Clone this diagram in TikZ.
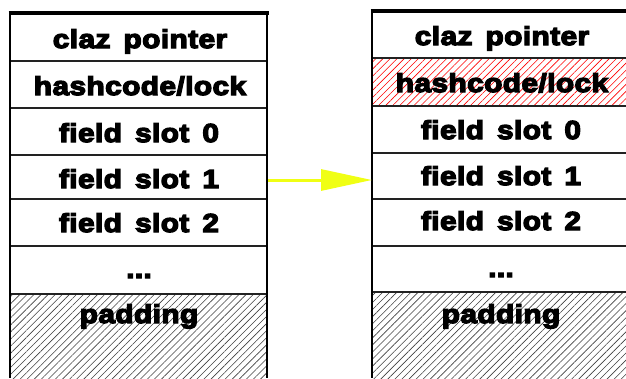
\documentclass[tikz,border=0pt]{standalone}
\usepackage{fontspec}
\newfontfamily\lbl{Liberation Sans}[FakeStretch=1.15,LetterSpace=1.5,WordSpace=1.5,BoldFeatures={FakeBold=5}]
\usetikzlibrary{arrows.meta,patterns.meta}
\definecolor{arrowyellow}{RGB}{240,255,20}
\definecolor{sepgray}{RGB}{34,34,34}
\begin{document}
\begin{tikzpicture}[x=1pt,y=-1pt,
  txt/.style={anchor=base,inner sep=0pt,font=\lbl\bfseries\fontsize{26}{26}\selectfont},
  border/.style={line width=1.8pt,black},
  topbar/.style={line width=4pt,black},
  sep/.style={line width=1.2pt,sepgray},
  hatchblack/.style={pattern={Lines[angle=45,distance=5pt,line width=0.6pt]},pattern color=black!75},
  hatchred/.style={pattern={Lines[angle=45,distance=5pt,line width=0.6pt]},pattern color=red},
  flow/.style={line width=3pt,arrowyellow,-{Triangle[length=51pt,width=21pt]}}]
\useasboundingbox (0,0) rectangle (626,378);
% left box
\fill[hatchblack] (10,294) rectangle (267,378);
\foreach \y in {61,108,155,199,246,294} \draw[sep] (10,\y) -- (267,\y);
\draw[border] (10,12) -- (10,378);
\draw[border] (267,12) -- (267,378);
\draw[topbar] (8.5,12.5) -- (268.5,12.5);
\node[txt] (l1) at (140,48) {claz pointer};
\node[txt] (l2) at (140,95) {hashcode/lock};
\node[txt] (l3) at (139,142) {field slot 0};
\node[txt] (l4) at (139,188) {field slot 1};
\node[txt] (l5) at (139,232) {field slot 2};
\node[txt] (l6) at (139,278) {...};
\node[txt] (l7) at (139,323) {padding};
% right box
\fill[hatchred] (372,58) rectangle (630,106);
\fill[hatchblack] (372,292) rectangle (630,378);
\foreach \y in {58,153,199,246,292} \draw[sep] (372,\y) -- (630,\y);
\draw[line width=2pt,sepgray] (372,106) -- (630,106);
\draw[border] (372,10) -- (372,378);
\draw[topbar] (370.5,11) -- (630,11);
\node[txt] (r1) at (502,45) {claz pointer};
\node[txt] (r2) at (502,92) {hashcode/lock};
\node[txt] (r3) at (501,139) {field slot 0};
\node[txt] (r4) at (501,185) {field slot 1};
\node[txt] (r5) at (501,230) {field slot 2};
\node[txt] (r6) at (501,277) {...};
\node[txt] (r7) at (501,323) {padding};
% arrow
\coordinate (from) at (268,180);
\coordinate (to) at (372,180);
\draw[flow] (from) -- (to);
\end{tikzpicture}
\end{document}
